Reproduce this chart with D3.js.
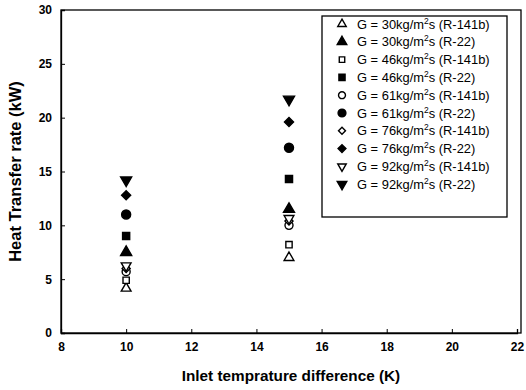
<!DOCTYPE html>
<html><head><meta charset="utf-8">
<script src="https://cdn.jsdelivr.net/npm/d3@7"></script>
<style>body{margin:0;background:#fff}svg{display:block}text{font-family:"Liberation Sans",Arial,sans-serif;fill:#000}</style>
</head><body><svg id="c" width="526" height="390"></svg>
<script>
const xTicks = [8,10,12,14,16,18,20,22];
const yTicks = [0,5,10,15,20,25,30];
const xValues = [10, 15];
const seriesNames = ["30","30","46","46","61","61","76","76","92","92"];
const refrigerants = ["R-141b","R-22","R-141b","R-22","R-141b","R-22","R-141b","R-22","R-141b","R-22"];
const symbols = ["triangle","triangle","square","square","circle","circle","diamond","diamond","triangleDown","triangleDown"];
const filled = [false,true,false,true,false,true,false,true,false,true];
const s30_141b = [4.15, 7.0];
const s30_22   = [7.5, 11.5];
const s46_141b = [4.9, 8.2];
const s46_22   = [9.0, 14.3];
const s61_141b = [5.7, 10.0];
const s61_22   = [11.0, 17.2];
const s76_141b = [6.0, 10.4];
const s76_22   = [12.8, 19.6];
const s92_141b = [6.25, 10.65];
const s92_22   = [14.2, 21.7];
const seriesValues = [s30_141b,s30_22,s46_141b,s46_22,s61_141b,s61_22,s76_141b,s76_22,s92_141b,s92_22];

const svg = d3.select("#c");
const L=61, R=517, T=10, B=333;
const x = d3.scaleLinear().domain([8,22]).range([L,R]);
const y = d3.scaleLinear().domain([0,30]).range([B,T]);

svg.append("rect").attr("x",L).attr("y",T).attr("width",521-L).attr("height",B-T)
  .attr("fill","none").attr("stroke","#000").attr("stroke-width",1.3);

const xa = svg.append("g").attr("transform",`translate(0,${B})`)
  .call(d3.axisBottom(x).tickValues(xTicks).tickSize(-4).tickPadding(9).tickFormat(d3.format("d")));
const ya = svg.append("g").attr("transform",`translate(${L},0)`)
  .call(d3.axisLeft(y).tickValues(yTicks).tickSize(-4).tickPadding(9).tickFormat(d3.format("d")));
[xa,ya].forEach(a=>{
  a.select(".domain").attr("stroke","#000").attr("stroke-width",1.3);
  a.selectAll(".tick line").attr("stroke","#000");
  a.selectAll("text").attr("font-size",12).attr("font-weight","bold").style("font-family","Liberation Sans, Arial, sans-serif");
});

svg.append("text").attr("x",(L+521)/2).attr("y",381).attr("text-anchor","middle")
  .attr("font-size",15.3).attr("font-weight","bold").text("Inlet temprature difference (K)");
svg.append("text").attr("transform",`translate(21,${(T+B)/2}) rotate(-90)`).attr("text-anchor","middle")
  .attr("font-size",16.5).attr("font-weight","bold").text("Heat Transfer rate (kW)");

const symMap = {triangle:d3.symbolTriangle, square:d3.symbolSquare, circle:d3.symbolCircle, diamond:d3.symbolSquare, triangleDown:d3.symbolTriangle};
function rot(i){ return symbols[i]==="triangleDown" ? " rotate(180)" : (symbols[i]==="diamond" ? " rotate(45)" : ""); }
function sizeFor(i, k){
  const base = {triangle:46, square:44, circle:56, diamond:36, triangleDown:46}[symbols[i]];
  return base * k * (filled[i] ? 1.15 : 0.9);
}
function sym(g, i, size){
  return g.append("path").attr("d", d3.symbol().type(symMap[symbols[i]]).size(size)())
    .attr("fill", filled[i] ? "#000" : "#fff").attr("stroke","#000").attr("stroke-width",1.4);
}
seriesValues.forEach((vals,i)=>{
  vals.forEach((v,j)=>{
    const g = svg.append("g").attr("transform",`translate(${x(xValues[j])},${y(v)})${rot(i)}`);
    sym(g,i, sizeFor(i,1));
  });
});

const lg = svg.append("g");
lg.append("rect").attr("x",322).attr("y",16).attr("width",185).attr("height",201)
  .attr("fill","#fff").attr("stroke","#000").attr("stroke-width",1.3);
seriesNames.forEach((n,i)=>{
  const cy = 24 + i*17.8;
  const g = lg.append("g").attr("transform",`translate(342,${cy})${rot(i)}`);
  sym(g,i, sizeFor(i,0.75));
  const t = lg.append("text").attr("x",357).attr("y",cy+4.5).attr("font-size",12.9);
  t.append("tspan").text(`G = ${n}kg/m`);
  t.append("tspan").attr("dy",-5).attr("font-size",8.5).text("2");
  t.append("tspan").attr("dy",5).text(`s (${refrigerants[i]})`);
});
</script></body></html>
